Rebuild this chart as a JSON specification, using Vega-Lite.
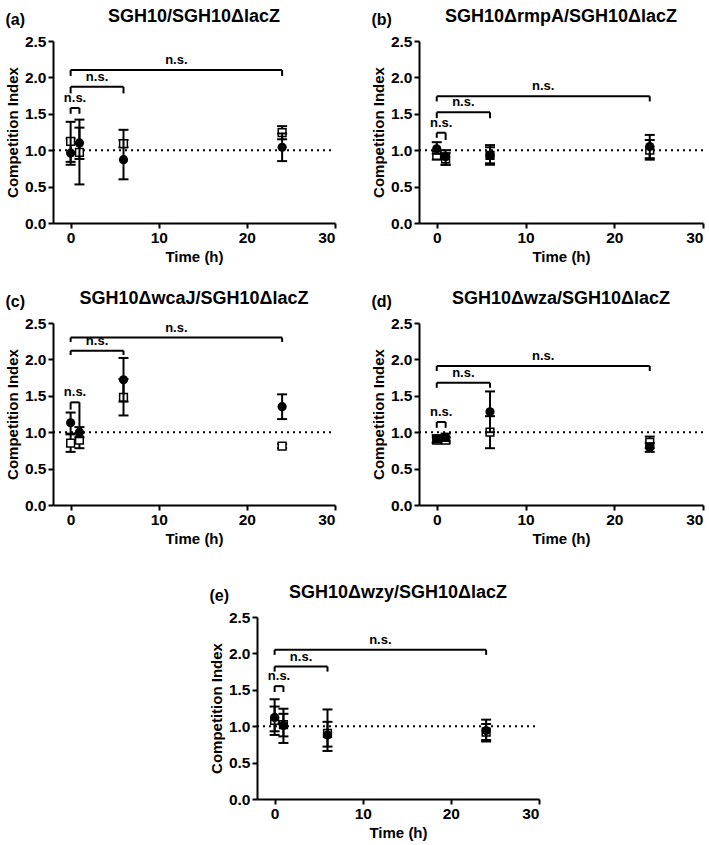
{
 "$schema": "https://vega.github.io/schema/vega-lite/v6.json",
 "background": "white",
 "padding": {"left": 5, "top": 8, "right": 5, "bottom": 5},
 "config": {
  "font": "Liberation Sans",
  "view": {"stroke": null},
  "concat": {"spacing": 35},
  "title": {"fontSize": 18, "fontWeight": "bold", "color": "black", "font": "Liberation Sans"},
  "axis": {"grid": false, "domainColor": "black", "domainWidth": 2, "tickColor": "black", "tickWidth": 2, "tickSize": 5, "labelOverlap": false, "labelPadding": 2, "titlePadding": 4,
   "labelFont": "Liberation Sans", "labelFontWeight": "bold", "labelFontSize": 15.5, "labelColor": "black",
   "titleFont": "Liberation Sans", "titleFontWeight": "bold", "titleFontSize": 15, "titleColor": "black"}
 },
 "datasets": {
  "pts": [
   {"p":"a","s":"c","t":0,"v":0.96,"lo":0.80,"hi":1.39},
   {"p":"a","s":"c","t":1,"v":1.10,"lo":0.53,"hi":1.42},
   {"p":"a","s":"c","t":6,"v":0.87,"lo":0.60,"hi":1.28},
   {"p":"a","s":"c","t":24,"v":1.04,"lo":0.85,"hi":1.23},
   {"p":"a","s":"sq","t":0,"v":1.12,"lo":0.84,"hi":1.16},
   {"p":"a","s":"sq","t":1,"v":0.97,"lo":0.88,"hi":1.31},
   {"p":"a","s":"sq","t":6,"v":1.09,"lo":1.04,"hi":1.14},
   {"p":"a","s":"sq","t":24,"v":1.24,"lo":1.15,"hi":1.33},
   {"p":"b","s":"c","t":0,"v":1.02,"lo":0.95,"hi":1.11},
   {"p":"b","s":"c","t":1,"v":0.91,"lo":0.80,"hi":1.00},
   {"p":"b","s":"c","t":6,"v":0.93,"lo":0.80,"hi":1.07},
   {"p":"b","s":"c","t":24,"v":1.05,"lo":0.89,"hi":1.21},
   {"p":"b","s":"sq","t":0,"v":0.93,"lo":0.87,"hi":0.99},
   {"p":"b","s":"sq","t":1,"v":0.88,"lo":0.80,"hi":0.96},
   {"p":"b","s":"sq","t":6,"v":0.93,"lo":0.82,"hi":1.04},
   {"p":"b","s":"sq","t":24,"v":1.00,"lo":0.87,"hi":1.14},
   {"p":"c","s":"c","t":0,"v":1.13,"lo":0.98,"hi":1.27},
   {"p":"c","s":"c","t":1,"v":1.00,"lo":0.93,"hi":1.07},
   {"p":"c","s":"c","t":6,"v":1.72,"lo":1.42,"hi":2.02},
   {"p":"c","s":"c","t":24,"v":1.35,"lo":1.18,"hi":1.52},
   {"p":"c","s":"sq","t":0,"v":0.85,"lo":0.73,"hi":0.97},
   {"p":"c","s":"sq","t":1,"v":0.89,"lo":0.78,"hi":0.99},
   {"p":"c","s":"sq","t":6,"v":1.48,"lo":1.23,"hi":1.73},
   {"p":"c","s":"sq","t":24,"v":0.81,"lo":0.78,"hi":0.84},
   {"p":"d","s":"c","t":0,"v":0.91,"lo":0.86,"hi":0.96},
   {"p":"d","s":"c","t":1,"v":0.93,"lo":0.88,"hi":0.98},
   {"p":"d","s":"c","t":6,"v":1.28,"lo":1.00,"hi":1.56},
   {"p":"d","s":"c","t":24,"v":0.79,"lo":0.73,"hi":0.85},
   {"p":"d","s":"sq","t":0,"v":0.89,"lo":0.85,"hi":0.93},
   {"p":"d","s":"sq","t":1,"v":0.89,"lo":0.85,"hi":0.93},
   {"p":"d","s":"sq","t":6,"v":1.00,"lo":0.78,"hi":1.22},
   {"p":"d","s":"sq","t":24,"v":0.86,"lo":0.78,"hi":0.94},
   {"p":"e","s":"c","t":0,"v":1.12,"lo":0.88,"hi":1.37},
   {"p":"e","s":"c","t":1,"v":1.01,"lo":0.77,"hi":1.24},
   {"p":"e","s":"c","t":6,"v":0.88,"lo":0.66,"hi":1.06},
   {"p":"e","s":"c","t":24,"v":0.94,"lo":0.79,"hi":1.09},
   {"p":"e","s":"sq","t":0,"v":1.08,"lo":0.93,"hi":1.27},
   {"p":"e","s":"sq","t":1,"v":1.02,"lo":0.86,"hi":1.17},
   {"p":"e","s":"sq","t":6,"v":0.90,"lo":0.72,"hi":1.23},
   {"p":"e","s":"sq","t":24,"v":0.92,"lo":0.81,"hi":1.03}
  ],
  "br": [
   {"p":"a","x1":0,"x2":1,"top":1.58,"lb":1.50,"rb":1.50,"lab":"n.s."},
   {"p":"a","x1":0,"x2":6,"top":1.87,"lb":1.78,"rb":1.78,"lab":"n.s."},
   {"p":"a","x1":0,"x2":24,"top":2.10,"lb":2.02,"rb":2.02,"lab":"n.s."},
   {"p":"b","x1":0,"x2":1,"top":1.24,"lb":1.17,"rb":1.14,"lab":"n.s."},
   {"p":"b","x1":0,"x2":6,"top":1.52,"lb":1.44,"rb":1.44,"lab":"n.s."},
   {"p":"b","x1":0,"x2":24,"top":1.74,"lb":1.67,"rb":1.67,"lab":"n.s."},
   {"p":"c","x1":0,"x2":1,"top":1.41,"lb":1.31,"rb":1.08,"lab":"n.s."},
   {"p":"c","x1":0,"x2":6,"top":2.12,"lb":2.06,"rb":2.06,"lab":"n.s."},
   {"p":"c","x1":0,"x2":24,"top":2.30,"lb":2.24,"rb":2.24,"lab":"n.s."},
   {"p":"d","x1":0,"x2":1,"top":1.14,"lb":1.06,"rb":1.06,"lab":"n.s."},
   {"p":"d","x1":0,"x2":6,"top":1.68,"lb":1.61,"rb":1.61,"lab":"n.s."},
   {"p":"d","x1":0,"x2":24,"top":1.91,"lb":1.84,"rb":1.84,"lab":"n.s."},
   {"p":"e","x1":0,"x2":1,"top":1.55,"lb":1.47,"rb":1.47,"lab":"n.s."},
   {"p":"e","x1":0,"x2":6,"top":1.82,"lb":1.75,"rb":1.75,"lab":"n.s."},
   {"p":"e","x1":0,"x2":24,"top":2.05,"lb":1.98,"rb":1.98,"lab":"n.s."}
  ]
 },
 "spacing": 37,
 "vconcat": [
 {"spacing": 25, "vconcat": [
  {"hconcat": [
   {"title": {"text": "(a)", "anchor": "start", "frame": "bounds", "offset": -20, "fontSize": 16},
    "vconcat": [{"width": 282, "height": 182, "title": {"text": "SGH10/SGH10ΔlacZ", "offset": 8},
     "layer": [
      {"data": {"values": [{}]}, "mark": {"type": "rule", "strokeDash": [2, 4], "strokeWidth": 2, "color": "black"},
       "encoding": {"x": {"datum": -2, "type": "quantitative", "scale": {"domain": [-2, 30], "nice": false, "zero": false}, "axis": {"values": [0, 10, 20, 30], "title": "Time (h)"}}, "x2": {"datum": 30},
        "y": {"datum": 1, "type": "quantitative", "scale": {"domain": [0, 2.5], "nice": false}, "axis": {"values": [0, 0.5, 1, 1.5, 2, 2.5], "tickCount": 6, "labelOverlap": false, "format": ".1f", "title": "Competition Index"}}}},
      {"data": {"name": "pts"}, "transform": [{"filter": "datum.p=='a'"}], "encoding": {"x": {"field": "t", "type": "quantitative"}},
       "layer": [
        {"transform": [{"filter": "datum.s=='sq'"}], "mark": {"type": "rule", "strokeWidth": 2, "color": "black"}, "encoding": {"y": {"field": "lo", "type": "quantitative"}, "y2": {"field": "hi"}}},
        {"transform": [{"filter": "datum.s=='sq'"}], "mark": {"type": "tick", "orient": "horizontal", "size": 10, "thickness": 2, "color": "black", "opacity": 1}, "encoding": {"y": {"field": "lo", "type": "quantitative"}}},
        {"transform": [{"filter": "datum.s=='sq'"}], "mark": {"type": "tick", "orient": "horizontal", "size": 10, "thickness": 2, "color": "black", "opacity": 1}, "encoding": {"y": {"field": "hi", "type": "quantitative"}}},
        {"transform": [{"filter": "datum.s=='sq'"}], "mark": {"type": "point", "shape": "square", "size": 60, "filled": true, "fill": "white", "stroke": "black", "strokeWidth": 1.5, "opacity": 1}, "encoding": {"y": {"field": "v", "type": "quantitative"}}},
        {"transform": [{"filter": "datum.s=='c'"}], "mark": {"type": "rule", "strokeWidth": 2, "color": "black"}, "encoding": {"y": {"field": "lo", "type": "quantitative"}, "y2": {"field": "hi"}}},
        {"transform": [{"filter": "datum.s=='c'"}], "mark": {"type": "tick", "orient": "horizontal", "size": 10, "thickness": 2, "color": "black", "opacity": 1}, "encoding": {"y": {"field": "lo", "type": "quantitative"}}},
        {"transform": [{"filter": "datum.s=='c'"}], "mark": {"type": "tick", "orient": "horizontal", "size": 10, "thickness": 2, "color": "black", "opacity": 1}, "encoding": {"y": {"field": "hi", "type": "quantitative"}}},
        {"transform": [{"filter": "datum.s=='c'"}], "mark": {"type": "point", "shape": "circle", "size": 85, "filled": true, "color": "black", "opacity": 1}, "encoding": {"y": {"field": "v", "type": "quantitative"}}}
       ]},
      {"data": {"name": "br"}, "transform": [{"filter": "datum.p=='a'"}, {"calculate": "(datum.x1+datum.x2)/2", "as": "xm"}],
       "layer": [
        {"mark": {"type": "rule", "strokeWidth": 2, "color": "black"}, "encoding": {"x": {"field": "x1", "type": "quantitative"}, "x2": {"field": "x2"}, "y": {"field": "top", "type": "quantitative"}}},
        {"mark": {"type": "rule", "strokeWidth": 2, "color": "black"}, "encoding": {"x": {"field": "x1", "type": "quantitative"}, "y": {"field": "top", "type": "quantitative"}, "y2": {"field": "lb"}}},
        {"mark": {"type": "rule", "strokeWidth": 2, "color": "black"}, "encoding": {"x": {"field": "x2", "type": "quantitative"}, "y": {"field": "top", "type": "quantitative"}, "y2": {"field": "rb"}}},
        {"mark": {"type": "text", "fontWeight": "bold", "fontSize": 13, "baseline": "bottom", "dy": -3, "color": "black"}, "encoding": {"x": {"field": "xm", "type": "quantitative"}, "y": {"field": "top", "type": "quantitative"}, "text": {"field": "lab"}}}
       ]}
     ]}]},
   {"title": {"text": "(b)", "anchor": "start", "frame": "bounds", "offset": -20, "fontSize": 16},
    "vconcat": [{"width": 284, "height": 182, "title": {"text": "SGH10ΔrmpA/SGH10ΔlacZ", "offset": 8},
     "layer": [
      {"data": {"values": [{}]}, "mark": {"type": "rule", "strokeDash": [2, 4], "strokeWidth": 2, "color": "black"},
       "encoding": {"x": {"datum": -2, "type": "quantitative", "scale": {"domain": [-2, 30], "nice": false, "zero": false}, "axis": {"values": [0, 10, 20, 30], "title": "Time (h)"}}, "x2": {"datum": 30},
        "y": {"datum": 1, "type": "quantitative", "scale": {"domain": [0, 2.5], "nice": false}, "axis": {"values": [0, 0.5, 1, 1.5, 2, 2.5], "tickCount": 6, "labelOverlap": false, "format": ".1f", "title": "Competition Index"}}}},
      {"data": {"name": "pts"}, "transform": [{"filter": "datum.p=='b'"}], "encoding": {"x": {"field": "t", "type": "quantitative"}},
       "layer": [
        {"transform": [{"filter": "datum.s=='sq'"}], "mark": {"type": "rule", "strokeWidth": 2, "color": "black"}, "encoding": {"y": {"field": "lo", "type": "quantitative"}, "y2": {"field": "hi"}}},
        {"transform": [{"filter": "datum.s=='sq'"}], "mark": {"type": "tick", "orient": "horizontal", "size": 10, "thickness": 2, "color": "black", "opacity": 1}, "encoding": {"y": {"field": "lo", "type": "quantitative"}}},
        {"transform": [{"filter": "datum.s=='sq'"}], "mark": {"type": "tick", "orient": "horizontal", "size": 10, "thickness": 2, "color": "black", "opacity": 1}, "encoding": {"y": {"field": "hi", "type": "quantitative"}}},
        {"transform": [{"filter": "datum.s=='sq'"}], "mark": {"type": "point", "shape": "square", "size": 60, "filled": true, "fill": "white", "stroke": "black", "strokeWidth": 1.5, "opacity": 1}, "encoding": {"y": {"field": "v", "type": "quantitative"}}},
        {"transform": [{"filter": "datum.s=='c'"}], "mark": {"type": "rule", "strokeWidth": 2, "color": "black"}, "encoding": {"y": {"field": "lo", "type": "quantitative"}, "y2": {"field": "hi"}}},
        {"transform": [{"filter": "datum.s=='c'"}], "mark": {"type": "tick", "orient": "horizontal", "size": 10, "thickness": 2, "color": "black", "opacity": 1}, "encoding": {"y": {"field": "lo", "type": "quantitative"}}},
        {"transform": [{"filter": "datum.s=='c'"}], "mark": {"type": "tick", "orient": "horizontal", "size": 10, "thickness": 2, "color": "black", "opacity": 1}, "encoding": {"y": {"field": "hi", "type": "quantitative"}}},
        {"transform": [{"filter": "datum.s=='c'"}], "mark": {"type": "point", "shape": "circle", "size": 85, "filled": true, "color": "black", "opacity": 1}, "encoding": {"y": {"field": "v", "type": "quantitative"}}}
       ]},
      {"data": {"name": "br"}, "transform": [{"filter": "datum.p=='b'"}, {"calculate": "(datum.x1+datum.x2)/2", "as": "xm"}],
       "layer": [
        {"mark": {"type": "rule", "strokeWidth": 2, "color": "black"}, "encoding": {"x": {"field": "x1", "type": "quantitative"}, "x2": {"field": "x2"}, "y": {"field": "top", "type": "quantitative"}}},
        {"mark": {"type": "rule", "strokeWidth": 2, "color": "black"}, "encoding": {"x": {"field": "x1", "type": "quantitative"}, "y": {"field": "top", "type": "quantitative"}, "y2": {"field": "lb"}}},
        {"mark": {"type": "rule", "strokeWidth": 2, "color": "black"}, "encoding": {"x": {"field": "x2", "type": "quantitative"}, "y": {"field": "top", "type": "quantitative"}, "y2": {"field": "rb"}}},
        {"mark": {"type": "text", "fontWeight": "bold", "fontSize": 13, "baseline": "bottom", "dy": -3, "color": "black"}, "encoding": {"x": {"field": "xm", "type": "quantitative"}, "y": {"field": "top", "type": "quantitative"}, "text": {"field": "lab"}}}
       ]}
     ]}]}
  ]},
  {"hconcat": [
   {"title": {"text": "(c)", "anchor": "start", "frame": "bounds", "offset": -20, "fontSize": 16},
    "vconcat": [{"width": 282, "height": 182, "title": {"text": "SGH10ΔwcaJ/SGH10ΔlacZ", "offset": 8},
     "layer": [
      {"data": {"values": [{}]}, "mark": {"type": "rule", "strokeDash": [2, 4], "strokeWidth": 2, "color": "black"},
       "encoding": {"x": {"datum": -2, "type": "quantitative", "scale": {"domain": [-2, 30], "nice": false, "zero": false}, "axis": {"values": [0, 10, 20, 30], "title": "Time (h)"}}, "x2": {"datum": 30},
        "y": {"datum": 1, "type": "quantitative", "scale": {"domain": [0, 2.5], "nice": false}, "axis": {"values": [0, 0.5, 1, 1.5, 2, 2.5], "tickCount": 6, "labelOverlap": false, "format": ".1f", "title": "Competition Index"}}}},
      {"data": {"name": "pts"}, "transform": [{"filter": "datum.p=='c'"}], "encoding": {"x": {"field": "t", "type": "quantitative"}},
       "layer": [
        {"transform": [{"filter": "datum.s=='sq'"}], "mark": {"type": "rule", "strokeWidth": 2, "color": "black"}, "encoding": {"y": {"field": "lo", "type": "quantitative"}, "y2": {"field": "hi"}}},
        {"transform": [{"filter": "datum.s=='sq'"}], "mark": {"type": "tick", "orient": "horizontal", "size": 10, "thickness": 2, "color": "black", "opacity": 1}, "encoding": {"y": {"field": "lo", "type": "quantitative"}}},
        {"transform": [{"filter": "datum.s=='sq'"}], "mark": {"type": "tick", "orient": "horizontal", "size": 10, "thickness": 2, "color": "black", "opacity": 1}, "encoding": {"y": {"field": "hi", "type": "quantitative"}}},
        {"transform": [{"filter": "datum.s=='sq'"}], "mark": {"type": "point", "shape": "square", "size": 60, "filled": true, "fill": "white", "stroke": "black", "strokeWidth": 1.5, "opacity": 1}, "encoding": {"y": {"field": "v", "type": "quantitative"}}},
        {"transform": [{"filter": "datum.s=='c'"}], "mark": {"type": "rule", "strokeWidth": 2, "color": "black"}, "encoding": {"y": {"field": "lo", "type": "quantitative"}, "y2": {"field": "hi"}}},
        {"transform": [{"filter": "datum.s=='c'"}], "mark": {"type": "tick", "orient": "horizontal", "size": 10, "thickness": 2, "color": "black", "opacity": 1}, "encoding": {"y": {"field": "lo", "type": "quantitative"}}},
        {"transform": [{"filter": "datum.s=='c'"}], "mark": {"type": "tick", "orient": "horizontal", "size": 10, "thickness": 2, "color": "black", "opacity": 1}, "encoding": {"y": {"field": "hi", "type": "quantitative"}}},
        {"transform": [{"filter": "datum.s=='c'"}], "mark": {"type": "point", "shape": "circle", "size": 85, "filled": true, "color": "black", "opacity": 1}, "encoding": {"y": {"field": "v", "type": "quantitative"}}}
       ]},
      {"data": {"name": "br"}, "transform": [{"filter": "datum.p=='c'"}, {"calculate": "(datum.x1+datum.x2)/2", "as": "xm"}],
       "layer": [
        {"mark": {"type": "rule", "strokeWidth": 2, "color": "black"}, "encoding": {"x": {"field": "x1", "type": "quantitative"}, "x2": {"field": "x2"}, "y": {"field": "top", "type": "quantitative"}}},
        {"mark": {"type": "rule", "strokeWidth": 2, "color": "black"}, "encoding": {"x": {"field": "x1", "type": "quantitative"}, "y": {"field": "top", "type": "quantitative"}, "y2": {"field": "lb"}}},
        {"mark": {"type": "rule", "strokeWidth": 2, "color": "black"}, "encoding": {"x": {"field": "x2", "type": "quantitative"}, "y": {"field": "top", "type": "quantitative"}, "y2": {"field": "rb"}}},
        {"mark": {"type": "text", "fontWeight": "bold", "fontSize": 13, "baseline": "bottom", "dy": -3, "color": "black"}, "encoding": {"x": {"field": "xm", "type": "quantitative"}, "y": {"field": "top", "type": "quantitative"}, "text": {"field": "lab"}}}
       ]}
     ]}]},
   {"title": {"text": "(d)", "anchor": "start", "frame": "bounds", "offset": -20, "fontSize": 16},
    "vconcat": [{"width": 284, "height": 182, "title": {"text": "SGH10Δwza/SGH10ΔlacZ", "offset": 8},
     "layer": [
      {"data": {"values": [{}]}, "mark": {"type": "rule", "strokeDash": [2, 4], "strokeWidth": 2, "color": "black"},
       "encoding": {"x": {"datum": -2, "type": "quantitative", "scale": {"domain": [-2, 30], "nice": false, "zero": false}, "axis": {"values": [0, 10, 20, 30], "title": "Time (h)"}}, "x2": {"datum": 30},
        "y": {"datum": 1, "type": "quantitative", "scale": {"domain": [0, 2.5], "nice": false}, "axis": {"values": [0, 0.5, 1, 1.5, 2, 2.5], "tickCount": 6, "labelOverlap": false, "format": ".1f", "title": "Competition Index"}}}},
      {"data": {"name": "pts"}, "transform": [{"filter": "datum.p=='d'"}], "encoding": {"x": {"field": "t", "type": "quantitative"}},
       "layer": [
        {"transform": [{"filter": "datum.s=='sq'"}], "mark": {"type": "rule", "strokeWidth": 2, "color": "black"}, "encoding": {"y": {"field": "lo", "type": "quantitative"}, "y2": {"field": "hi"}}},
        {"transform": [{"filter": "datum.s=='sq'"}], "mark": {"type": "tick", "orient": "horizontal", "size": 10, "thickness": 2, "color": "black", "opacity": 1}, "encoding": {"y": {"field": "lo", "type": "quantitative"}}},
        {"transform": [{"filter": "datum.s=='sq'"}], "mark": {"type": "tick", "orient": "horizontal", "size": 10, "thickness": 2, "color": "black", "opacity": 1}, "encoding": {"y": {"field": "hi", "type": "quantitative"}}},
        {"transform": [{"filter": "datum.s=='sq'"}], "mark": {"type": "point", "shape": "square", "size": 60, "filled": true, "fill": "white", "stroke": "black", "strokeWidth": 1.5, "opacity": 1}, "encoding": {"y": {"field": "v", "type": "quantitative"}}},
        {"transform": [{"filter": "datum.s=='c'"}], "mark": {"type": "rule", "strokeWidth": 2, "color": "black"}, "encoding": {"y": {"field": "lo", "type": "quantitative"}, "y2": {"field": "hi"}}},
        {"transform": [{"filter": "datum.s=='c'"}], "mark": {"type": "tick", "orient": "horizontal", "size": 10, "thickness": 2, "color": "black", "opacity": 1}, "encoding": {"y": {"field": "lo", "type": "quantitative"}}},
        {"transform": [{"filter": "datum.s=='c'"}], "mark": {"type": "tick", "orient": "horizontal", "size": 10, "thickness": 2, "color": "black", "opacity": 1}, "encoding": {"y": {"field": "hi", "type": "quantitative"}}},
        {"transform": [{"filter": "datum.s=='c'"}], "mark": {"type": "point", "shape": "circle", "size": 85, "filled": true, "color": "black", "opacity": 1}, "encoding": {"y": {"field": "v", "type": "quantitative"}}}
       ]},
      {"data": {"name": "br"}, "transform": [{"filter": "datum.p=='d'"}, {"calculate": "(datum.x1+datum.x2)/2", "as": "xm"}],
       "layer": [
        {"mark": {"type": "rule", "strokeWidth": 2, "color": "black"}, "encoding": {"x": {"field": "x1", "type": "quantitative"}, "x2": {"field": "x2"}, "y": {"field": "top", "type": "quantitative"}}},
        {"mark": {"type": "rule", "strokeWidth": 2, "color": "black"}, "encoding": {"x": {"field": "x1", "type": "quantitative"}, "y": {"field": "top", "type": "quantitative"}, "y2": {"field": "lb"}}},
        {"mark": {"type": "rule", "strokeWidth": 2, "color": "black"}, "encoding": {"x": {"field": "x2", "type": "quantitative"}, "y": {"field": "top", "type": "quantitative"}, "y2": {"field": "rb"}}},
        {"mark": {"type": "text", "fontWeight": "bold", "fontSize": 13, "baseline": "bottom", "dy": -3, "color": "black"}, "encoding": {"x": {"field": "xm", "type": "quantitative"}, "y": {"field": "top", "type": "quantitative"}, "text": {"field": "lab"}}}
       ]}
     ]}]}
  ]}
 ]},
  {"hconcat": [
   {"width": 121, "height": 10, "data": {"values": []}, "mark": "point"},
   {"title": {"text": "(e)", "anchor": "start", "frame": "bounds", "offset": -20, "fontSize": 16},
    "vconcat": [{"width": 282, "height": 182, "title": {"text": "SGH10Δwzy/SGH10ΔlacZ", "offset": 8},
     "layer": [
      {"data": {"values": [{}]}, "mark": {"type": "rule", "strokeDash": [2, 4], "strokeWidth": 2, "color": "black"},
       "encoding": {"x": {"datum": -2, "type": "quantitative", "scale": {"domain": [-2, 30], "nice": false, "zero": false}, "axis": {"values": [0, 10, 20, 30], "title": "Time (h)"}}, "x2": {"datum": 30},
        "y": {"datum": 1, "type": "quantitative", "scale": {"domain": [0, 2.5], "nice": false}, "axis": {"values": [0, 0.5, 1, 1.5, 2, 2.5], "tickCount": 6, "labelOverlap": false, "format": ".1f", "title": "Competition Index"}}}},
      {"data": {"name": "pts"}, "transform": [{"filter": "datum.p=='e'"}], "encoding": {"x": {"field": "t", "type": "quantitative"}},
       "layer": [
        {"transform": [{"filter": "datum.s=='sq'"}], "mark": {"type": "rule", "strokeWidth": 2, "color": "black"}, "encoding": {"y": {"field": "lo", "type": "quantitative"}, "y2": {"field": "hi"}}},
        {"transform": [{"filter": "datum.s=='sq'"}], "mark": {"type": "tick", "orient": "horizontal", "size": 10, "thickness": 2, "color": "black", "opacity": 1}, "encoding": {"y": {"field": "lo", "type": "quantitative"}}},
        {"transform": [{"filter": "datum.s=='sq'"}], "mark": {"type": "tick", "orient": "horizontal", "size": 10, "thickness": 2, "color": "black", "opacity": 1}, "encoding": {"y": {"field": "hi", "type": "quantitative"}}},
        {"transform": [{"filter": "datum.s=='sq'"}], "mark": {"type": "point", "shape": "square", "size": 60, "filled": true, "fill": "white", "stroke": "black", "strokeWidth": 1.5, "opacity": 1}, "encoding": {"y": {"field": "v", "type": "quantitative"}}},
        {"transform": [{"filter": "datum.s=='c'"}], "mark": {"type": "rule", "strokeWidth": 2, "color": "black"}, "encoding": {"y": {"field": "lo", "type": "quantitative"}, "y2": {"field": "hi"}}},
        {"transform": [{"filter": "datum.s=='c'"}], "mark": {"type": "tick", "orient": "horizontal", "size": 10, "thickness": 2, "color": "black", "opacity": 1}, "encoding": {"y": {"field": "lo", "type": "quantitative"}}},
        {"transform": [{"filter": "datum.s=='c'"}], "mark": {"type": "tick", "orient": "horizontal", "size": 10, "thickness": 2, "color": "black", "opacity": 1}, "encoding": {"y": {"field": "hi", "type": "quantitative"}}},
        {"transform": [{"filter": "datum.s=='c'"}], "mark": {"type": "point", "shape": "circle", "size": 85, "filled": true, "color": "black", "opacity": 1}, "encoding": {"y": {"field": "v", "type": "quantitative"}}}
       ]},
      {"data": {"name": "br"}, "transform": [{"filter": "datum.p=='e'"}, {"calculate": "(datum.x1+datum.x2)/2", "as": "xm"}],
       "layer": [
        {"mark": {"type": "rule", "strokeWidth": 2, "color": "black"}, "encoding": {"x": {"field": "x1", "type": "quantitative"}, "x2": {"field": "x2"}, "y": {"field": "top", "type": "quantitative"}}},
        {"mark": {"type": "rule", "strokeWidth": 2, "color": "black"}, "encoding": {"x": {"field": "x1", "type": "quantitative"}, "y": {"field": "top", "type": "quantitative"}, "y2": {"field": "lb"}}},
        {"mark": {"type": "rule", "strokeWidth": 2, "color": "black"}, "encoding": {"x": {"field": "x2", "type": "quantitative"}, "y": {"field": "top", "type": "quantitative"}, "y2": {"field": "rb"}}},
        {"mark": {"type": "text", "fontWeight": "bold", "fontSize": 13, "baseline": "bottom", "dy": -3, "color": "black"}, "encoding": {"x": {"field": "xm", "type": "quantitative"}, "y": {"field": "top", "type": "quantitative"}, "text": {"field": "lab"}}}
       ]}
     ]}]}
  ]}
 ]
}
